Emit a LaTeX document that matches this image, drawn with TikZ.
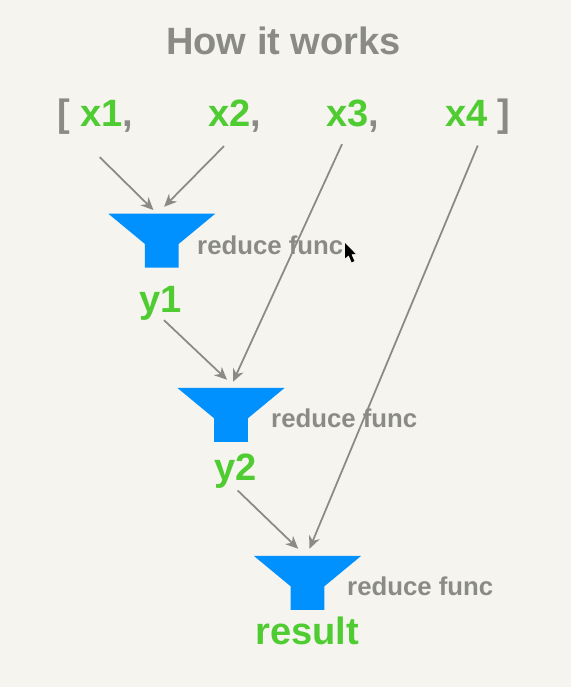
\documentclass[tikz,border=0pt]{standalone}
\usepackage{fontspec}
\setmainfont{Liberation Sans}
\usetikzlibrary{arrows.meta}

\definecolor{paper}{HTML}{F5F4EE}
\definecolor{keygray}{HTML}{8A8A86}
\definecolor{keygreen}{HTML}{50CC33}
\definecolor{funnelblue}{HTML}{0091FF}

\begin{document}
\begin{tikzpicture}[
  x=1cm,
  y=1cm,
  font=\bfseries,
  bigtext/.style={font=\fontsize{32.5}{36}\bfseries\selectfont,anchor=base west,inner sep=0pt},
  graytext/.style={bigtext,text=keygray},
  greentext/.style={bigtext,text=keygreen},
  functext/.style={font=\fontsize{22}{26}\bfseries\selectfont,text=keygray,anchor=base west,inner sep=0pt},
  flow/.style={draw=keygray,line width=1.5pt,-{Stealth[length=.38cm,width=.34cm]}},
  funnel/.style={minimum width=3.21cm,minimum height=1.62cm,inner sep=0pt,
    path picture={
      \fill[funnelblue] (path picture bounding box.north west)
        -- (path picture bounding box.north east)
        -- ([xshift=-1.1cm,yshift=.71cm]path picture bounding box.south east)
        -- ([xshift=-1.1cm]path picture bounding box.south east)
        -- ([xshift=1.1cm]path picture bounding box.south west)
        -- ([xshift=1.1cm,yshift=.71cm]path picture bounding box.south west)
        -- cycle;}}
]
\useasboundingbox[fill=paper] (0,0) rectangle (17.13,20.61);

% list across the top
\node[graytext,anchor=base] (title) at (8.505,18.96) {How it works};
\node[graytext] (lbrack) at (1.71,16.80) {[};
\node[greentext] (x1) at (2.40,16.80) {x1\textcolor{keygray}{,}};
\node[greentext] (x2) at (6.24,16.80) {x2\textcolor{keygray}{,}};
\node[greentext] (x3) at (9.78,16.80) {x3\textcolor{keygray}{,}};
\node[greentext] (x4) at (13.35,16.80) {x4};
\node[graytext] (rbrack) at (14.91,16.80) {]};

% funnels
\node[funnel] (f1) at (4.854,13.39) {};
\node[funnel] (f2) at (6.93,8.16) {};
\node[funnel] (f3) at (9.225,3.12) {};

\node[functext] (rf1) at (5.91,12.96) {reduce func};
\node[functext] (rf2) at (8.13,7.77) {reduce func};
\node[functext] (rf3) at (10.41,2.73) {reduce func};

\node[greentext,anchor=base] (y1) at (4.83,11.22) {y1};
\node[greentext,anchor=base] (y2) at (7.07,6.20) {y2};
\node[greentext,anchor=base] (result) at (9.215,1.26) {result};

% pointer left on the screen
\fill[black] (10.35,13.32) -- (10.35,12.86) -- (10.46,12.95) -- (10.55,12.74)
  -- (10.63,12.78) -- (10.54,12.98) -- (10.67,12.99) -- cycle;

% connectors
\draw[flow] ([shift={(-.21,-.72)}]x1.south) -- ([shift={(-.25,.10)}]f1.north);
\draw[flow] ([shift={(-.32,-.39)}]x2.south) -- ([shift={(.07,.20)}]f1.north);
\draw[flow] ([shift={(-.32,-.33)}]x3.south) -- ([shift={(.06,.18)}]f2.north);
\draw[flow] ([shift={(.34,-.55)}]x4.south) -- ([shift={(.06,.21)}]f3.north);
\draw[flow] ([shift={(.09,.03)}]y1.south) -- ([shift={(-.12,.24)}]f2.north);
\draw[flow] ([shift={(.06,-.06)}]y2.south) -- ([shift={(-.28,.21)}]f3.north);
\end{tikzpicture}
\end{document}
